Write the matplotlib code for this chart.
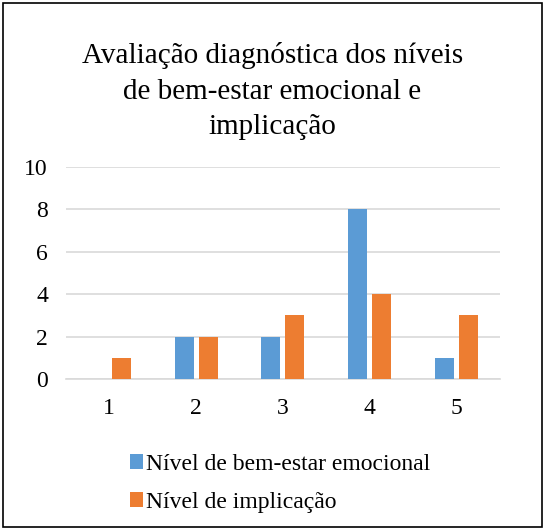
import numpy as np
import matplotlib.pyplot as plt
from matplotlib.patches import Rectangle

plt.rcParams['font.family'] = ['Liberation Serif', 'DejaVu Serif']

# dados
categorias = ['1', '2', '3', '4', '5']
bem_estar = [0, 2, 2, 8, 1]
implicacao = [1, 2, 3, 4, 3]
series_nomes = ['Nível de bem-estar emocional', 'Nível de implicação']
cores = ['#5B9BD5', '#ED7D31']

fig = plt.figure(figsize=(5.45, 5.29), dpi=100)
ax = fig.add_axes([0.121, 0.2836, 0.796, 0.4008])

x = np.arange(len(categorias))
largura = 0.22
desl = 0.138
ax.bar(x - desl, bem_estar, largura, color=cores[0], label=series_nomes[0], zorder=3)
ax.bar(x + desl, implicacao, largura, color=cores[1], label=series_nomes[1], zorder=3)

ax.set_xlim(-0.5, len(categorias) - 0.5)
ax.set_ylim(0, 10)
ax.set_yticks(range(0, 11, 2))
ax.set_xticks(x)
ax.set_xticklabels(categorias)
ax.grid(axis='y', color='#d9d9d9', linewidth=1.2, zorder=0)
for s in ['top', 'right', 'left']:
    ax.spines[s].set_visible(False)
ax.spines['bottom'].set_color('#d9d9d9')
ax.spines['bottom'].set_linewidth(1.2)
ax.tick_params(length=0, labelsize=17)
ax.tick_params(axis='y', pad=13)
ax.tick_params(axis='x', pad=14)

fig.text(0.5, 0.92, 'Avaliação diagnóstica dos níveis\nde bem-estar emocional e\nimplicação',
         ha='center', va='top', fontsize=21, linespacing=1.47)

fig.legend(loc='upper left', bbox_to_anchor=(0.221, 0.16), ncol=1, frameon=False,
           fontsize=17, handlelength=0.55, handleheight=0.55, handletextpad=0.15,
           labelspacing=0.72, borderaxespad=0)

# moldura
fig.patches.append(Rectangle((0.005, 0.004), 0.99, 0.99, transform=fig.transFigure,
                             fill=False, edgecolor='black', linewidth=1.2))

fig.savefig('out.png', dpi=100)
